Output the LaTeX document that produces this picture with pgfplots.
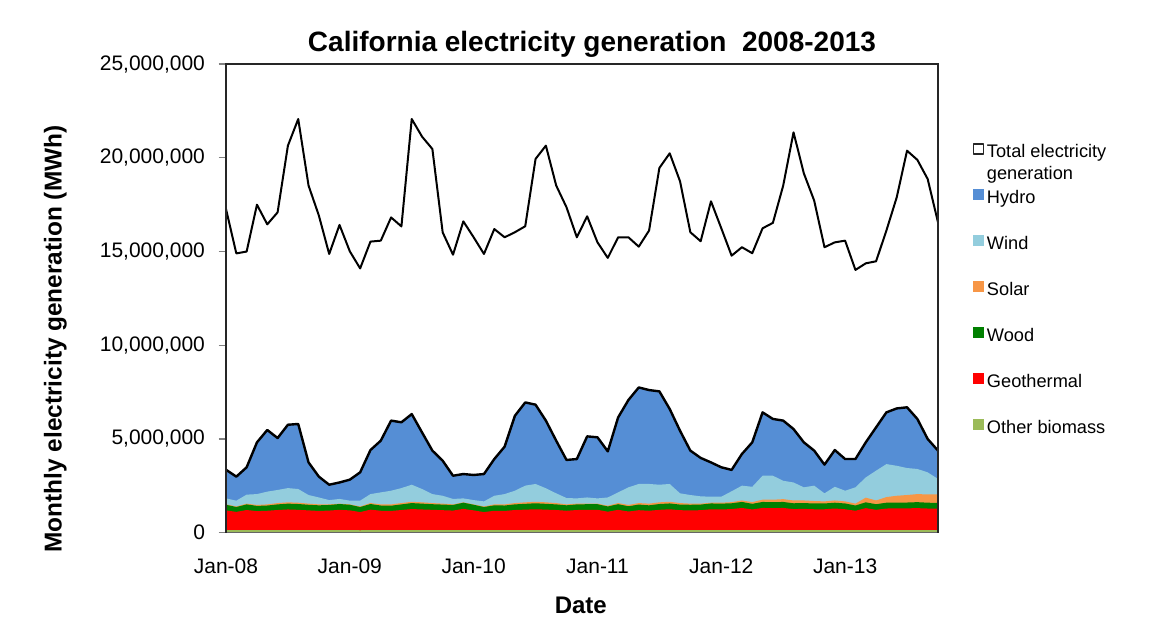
\documentclass[border=0pt]{standalone}
\usepackage{fontspec}
\setmainfont{Liberation Sans}
\usepackage{pgfplots}
\pgfplotsset{compat=1.18}
\usepackage{pgfplotstable}

\definecolor{hydro}{RGB}{85,142,213}
\definecolor{wind}{RGB}{147,205,221}
\definecolor{solar}{RGB}{247,150,70}
\definecolor{wood}{RGB}{0,128,0}
\definecolor{geo}{RGB}{255,0,0}
\definecolor{bio}{RGB}{155,187,89}

% Monthly generation in million MWh, month 0 = Jan 2008.
% hydro ... bio hold the upper edge of each band of the renewable stack.
\pgfplotstableread{
k total hydro wind solar wood geo bio
0 17.27 3.36 1.83 1.51 1.49 1.19 0.14
1 14.90 2.99 1.71 1.40 1.37 1.11 0.14
2 15.00 3.49 2.03 1.55 1.51 1.21 0.14
3 17.50 4.82 2.06 1.48 1.43 1.15 0.14
4 16.45 5.48 2.19 1.51 1.45 1.17 0.14
5 17.09 5.05 2.28 1.58 1.51 1.21 0.14
6 20.65 5.76 2.38 1.62 1.55 1.24 0.14
7 22.07 5.80 2.33 1.60 1.53 1.22 0.14
8 18.52 3.75 2.01 1.55 1.49 1.19 0.14
9 16.92 2.99 1.88 1.51 1.46 1.16 0.14
10 14.87 2.56 1.74 1.51 1.48 1.18 0.14
11 16.42 2.68 1.80 1.55 1.53 1.22 0.14
12 15.01 2.83 1.71 1.51 1.49 1.19 0.14
13 14.10 3.22 1.71 1.40 1.37 1.10 0.13
14 15.53 4.41 2.06 1.58 1.53 1.23 0.14
15 15.58 4.91 2.15 1.51 1.45 1.17 0.14
16 16.82 5.98 2.24 1.51 1.44 1.16 0.14
17 16.34 5.89 2.38 1.58 1.51 1.21 0.14
18 22.07 6.33 2.56 1.65 1.58 1.26 0.14
19 21.13 5.35 2.33 1.62 1.55 1.24 0.14
20 20.47 4.38 2.06 1.58 1.52 1.22 0.14
21 16.02 3.84 1.97 1.55 1.50 1.20 0.14
22 14.83 3.04 1.80 1.51 1.48 1.18 0.14
23 16.61 3.13 1.83 1.62 1.60 1.27 0.14
24 15.76 3.08 1.74 1.51 1.49 1.19 0.14
25 14.87 3.13 1.67 1.40 1.37 1.10 0.14
26 16.20 3.93 1.97 1.51 1.46 1.17 0.14
27 15.76 4.59 2.06 1.51 1.45 1.16 0.14
28 16.03 6.24 2.24 1.58 1.51 1.21 0.14
29 16.35 6.95 2.51 1.62 1.54 1.23 0.14
30 19.94 6.83 2.60 1.65 1.57 1.25 0.14
31 20.65 5.98 2.37 1.62 1.54 1.23 0.14
32 18.52 4.91 2.10 1.58 1.51 1.21 0.14
33 17.36 3.88 1.85 1.51 1.46 1.17 0.14
34 15.76 3.93 1.83 1.55 1.51 1.21 0.14
35 16.88 5.14 1.88 1.55 1.52 1.22 0.14
36 15.49 5.09 1.83 1.55 1.52 1.22 0.14
37 14.66 4.34 1.88 1.44 1.40 1.12 0.14
38 15.76 6.15 2.15 1.58 1.52 1.22 0.14
39 15.76 7.08 2.42 1.48 1.41 1.13 0.14
40 15.26 7.75 2.60 1.58 1.50 1.20 0.14
41 16.12 7.61 2.60 1.55 1.46 1.17 0.14
42 19.46 7.54 2.56 1.62 1.53 1.22 0.14
43 20.24 6.60 2.60 1.65 1.56 1.25 0.14
44 18.75 5.44 2.10 1.58 1.50 1.20 0.14
45 16.03 4.38 2.01 1.55 1.49 1.19 0.14
46 15.55 3.99 1.94 1.55 1.50 1.20 0.14
47 17.68 3.75 1.92 1.60 1.56 1.25 0.14
48 16.24 3.49 1.92 1.60 1.55 1.24 0.14
49 14.78 3.35 2.21 1.63 1.57 1.26 0.14
50 15.23 4.20 2.51 1.72 1.64 1.32 0.14
51 14.91 4.82 2.45 1.63 1.54 1.24 0.14
52 16.24 6.42 3.04 1.76 1.64 1.32 0.14
53 16.53 6.07 3.04 1.76 1.63 1.31 0.14
54 18.52 5.98 2.77 1.79 1.64 1.32 0.14
55 21.36 5.53 2.68 1.72 1.57 1.26 0.14
56 19.17 4.82 2.42 1.72 1.58 1.27 0.14
57 17.72 4.38 2.51 1.69 1.56 1.25 0.14
58 15.23 3.63 2.10 1.67 1.56 1.25 0.14
59 15.49 4.41 2.45 1.72 1.60 1.29 0.14
60 15.58 3.93 2.24 1.67 1.56 1.25 0.14
61 14.02 3.93 2.42 1.55 1.45 1.17 0.14
62 14.37 4.82 2.95 1.87 1.62 1.31 0.14
63 14.48 5.62 3.31 1.72 1.52 1.22 0.14
64 16.12 6.42 3.66 1.90 1.60 1.29 0.14
65 17.89 6.63 3.57 1.97 1.61 1.30 0.14
66 20.38 6.69 3.45 2.01 1.61 1.30 0.14
67 19.89 6.07 3.40 2.06 1.63 1.31 0.14
68 18.87 5.00 3.22 2.04 1.60 1.29 0.14
69 16.56 4.38 2.87 2.04 1.59 1.28 0.14
}\gen

\begin{document}
\begin{tikzpicture}
\path[use as bounding box] (0,0) rectangle (575pt,310.5pt);
\begin{axis}[
  at={(113pt,44.15pt)}, anchor=south west,
  scale only axis, width=356pt, height=234.3pt,
  xmin=0, xmax=69, ymin=0, ymax=25,
  axis on top,
  axis line style={line width=0.6pt, gray!80!black},
  % heavier frame on the top, left and right sides of the plot area
  after end axis/.code={
    \draw[line width=1.3pt, black!85, line join=miter]
      (rel axis cs:0,0) -- (rel axis cs:0,1) -- (rel axis cs:1,1) -- (rel axis cs:1,0);
  },
  xtick={0,12,24,36,48,60},
  xticklabels={Jan-08,Jan-09,Jan-10,Jan-11,Jan-12,Jan-13},
  ytick={0,5,10,15,20,25},
  yticklabels={0,{5,000,000},{10,000,000},{15,000,000},{20,000,000},{25,000,000}},
  tick label style={font=\fontsize{10.5}{12}\selectfont},
  tick align=outside, ytick pos=left, major tick length=3.7pt,
  ytick style={gray, line width=0.6pt},
  xtick style={draw=none},
  xticklabel style={yshift=-6pt},
  yticklabel style={xshift=-3.3pt},
  legend style={draw=none, fill=none, inner sep=0pt, outer sep=0pt,
    at={(axis description cs:1,1)}, anchor=north west,
    xshift=17.35pt, yshift=-37.5pt,
    font=\fontsize{9.1}{11}\selectfont,
    row sep=0pt, column sep=0.6pt,
    cells={anchor=base west},
    nodes={inner sep=1pt, text height=8pt, text depth=13pt}},
]
\addplot[black, line width=1pt, line join=round,
  legend image code/.code={\draw[black!85, fill=white, line width=0.6pt] (0.3pt,1.6pt) rectangle (5.25pt,6.6pt);}]
  table[x=k, y=total]{\gen};
\addlegendentry{\vtop{\hbox{Total electricity}\hbox{generation}}}
\addplot[fill=hydro, draw=none,
  legend image code/.code={\fill[hydro] (0pt,1.4pt) rectangle (5.5pt,6.9pt);}]
  table[x=k, y=hydro]{\gen} \closedcycle;
\addlegendentry{Hydro}
\addplot[fill=wind, draw=none,
  legend image code/.code={\fill[wind] (0pt,1.4pt) rectangle (5.5pt,6.9pt);}]
  table[x=k, y=wind]{\gen} \closedcycle;
\addlegendentry{Wind}
\addplot[fill=solar, draw=none,
  legend image code/.code={\fill[solar] (0pt,1.4pt) rectangle (5.5pt,6.9pt);}]
  table[x=k, y=solar]{\gen} \closedcycle;
\addlegendentry{Solar}
\addplot[fill=wood, draw=none,
  legend image code/.code={\fill[wood] (0pt,1.4pt) rectangle (5.5pt,6.9pt);}]
  table[x=k, y=wood]{\gen} \closedcycle;
\addlegendentry{Wood}
\addplot[fill=geo, draw=none,
  legend image code/.code={\fill[geo] (0pt,1.4pt) rectangle (5.5pt,6.9pt);}]
  table[x=k, y=geo]{\gen} \closedcycle;
\addlegendentry{Geothermal}
\addplot[fill=bio, draw=none,
  legend image code/.code={\fill[bio] (0pt,1.4pt) rectangle (5.5pt,6.9pt);}]
  table[x=k, y=bio]{\gen} \closedcycle;
\addlegendentry{Other biomass}
% outline along the top of the hydro band
\addplot[black, line width=1.2pt, line join=round, forget plot]
  table[x=k, y=hydro]{\gen};
\end{axis}
\node[anchor=base, font=\fontsize{14}{16}\selectfont\bfseries]
  at (296pt,284.75pt) {California electricity generation\ \ 2008-2013};
\node[anchor=base, rotate=90, font=\fontsize{12.2}{14}\selectfont\bfseries]
  at (30.75pt,141pt) {Monthly electricity generation (MWh)};
\node[anchor=base, font=\fontsize{12}{14}\selectfont\bfseries]
  at (290.4pt,4pt) {Date};
\end{tikzpicture}
\end{document}
